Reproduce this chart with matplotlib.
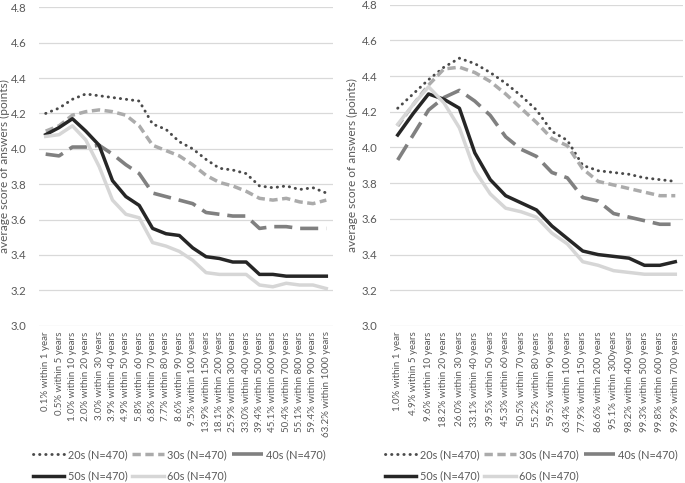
import matplotlib
matplotlib.use("Agg")
import matplotlib.pyplot as plt
from matplotlib.lines import Line2D
from matplotlib.ticker import FormatStrFormatter

plt.rcParams['font.family'] = ['Lato', 'DejaVu Sans']

left_categories = [
    "0.1% within 1 year", "0.5% within 5 years", "1.0% within 10 years",
    "2.0% within 20 years", "3.0% within 30 years", "3.9% within 40 years",
    "4.9% within 50 years", "5.8% within 60 years", "6.8% within 70 years",
    "7.7% within 80 years", "8.6% within 90 years", "9.5% within 100 years",
    "13.9% within 150 years", "18.1% within 200 years", "25.9% within 300 years",
    "33.0% within 400 years", "39.4% within 500 years", "45.1% within 600 years",
    "50.4% within 700 years", "55.1% within 800 years", "59.4% within 900 years",
    "63.2% within 1000 years",
]
left_20s = [4.20, 4.23, 4.28, 4.31, 4.30, 4.29, 4.28, 4.27, 4.14, 4.11, 4.04,
            4.00, 3.94, 3.89, 3.88, 3.86, 3.79, 3.78, 3.79, 3.77, 3.78, 3.75]
left_30s = [4.10, 4.13, 4.19, 4.21, 4.22, 4.21, 4.19, 4.13, 4.02, 3.99, 3.96,
            3.91, 3.85, 3.81, 3.79, 3.76, 3.72, 3.71, 3.72, 3.70, 3.69, 3.71]
left_40s = [3.97, 3.96, 4.01, 4.01, 4.02, 3.97, 3.91, 3.86, 3.75, 3.73, 3.71,
            3.69, 3.64, 3.63, 3.62, 3.62, 3.55, 3.56, 3.56, 3.55, 3.55, 3.55]
left_50s = [4.08, 4.12, 4.17, 4.10, 4.02, 3.82, 3.73, 3.68, 3.55, 3.52, 3.51,
            3.44, 3.39, 3.38, 3.36, 3.36, 3.29, 3.29, 3.28, 3.28, 3.28, 3.28]
left_60s = [4.07, 4.08, 4.13, 4.05, 3.90, 3.71, 3.63, 3.61, 3.47, 3.45, 3.42,
            3.37, 3.30, 3.29, 3.29, 3.29, 3.23, 3.22, 3.24, 3.23, 3.23, 3.21]

right_categories = [
    "1.0% within 1 year", "4.9% within 5 years", "9.6% within 10 years",
    "18.2% within 20 years", "26.0% within 30 years", "33.1% within 40 years",
    "39.5% within 50 years", "45.3% within 60 years", "50.5% within 70 years",
    "55.2% within 80 years", "59.5% within 90 years", "63.4% within 100 years",
    "77.9% within 150 years", "86.6% within 200 years", "95.1% within 300years",
    "98.2% within 400 years", "99.3% within 500 years", "99.8% within 600 years",
    "99.9% within 700 years",
]
right_20s = [4.22, 4.30, 4.38, 4.45, 4.50, 4.47, 4.42, 4.36, 4.29, 4.21, 4.09,
             4.04, 3.90, 3.87, 3.86, 3.85, 3.83, 3.82, 3.81]
right_30s = [4.12, 4.24, 4.35, 4.44, 4.45, 4.42, 4.37, 4.30, 4.22, 4.14, 4.05,
             4.01, 3.88, 3.81, 3.79, 3.77, 3.75, 3.73, 3.73]
right_40s = [3.93, 4.07, 4.21, 4.28, 4.32, 4.26, 4.18, 4.06, 3.99, 3.95, 3.86,
             3.83, 3.72, 3.70, 3.63, 3.61, 3.59, 3.57, 3.57]
right_50s = [4.07, 4.19, 4.30, 4.27, 4.22, 3.97, 3.82, 3.73, 3.69, 3.65, 3.56,
             3.49, 3.42, 3.40, 3.39, 3.38, 3.34, 3.34, 3.36]
right_60s = [4.13, 4.24, 4.34, 4.25, 4.11, 3.87, 3.74, 3.66, 3.64, 3.61, 3.52,
             3.46, 3.36, 3.34, 3.31, 3.30, 3.29, 3.29, 3.29]

series_labels = ["20s (N=470)", "30s (N=470)", "40s (N=470)", "50s (N=470)", "60s (N=470)"]
yticks = [3.0, 3.2, 3.4, 3.6, 3.8, 4.0, 4.2, 4.4, 4.6, 4.8]
ylabel = "average score of answers (points)"

styles = [
    dict(color="#4a4a4a", lw=2.1, linestyle=(0, (0.1, 2.0)), dash_capstyle="round"),
    dict(color="#ababab", lw=2.5, linestyle=(0, (2.4, 1.3))),
    dict(color="#808080", lw=2.6, linestyle=(0, (5.0, 2.2))),
    dict(color="#262626", lw=2.5, linestyle="-"),
    dict(color="#d6d6d6", lw=2.5, linestyle="-"),
]
# legend handle styles (the long-dash sample shows as a single dash in the reference)
legend_styles = [dict(s) for s in styles]
legend_styles[2]["linestyle"] = (0, (9.0, 3.0))

text_color = "#595959"
W, H = 685, 483
fig = plt.figure(figsize=(W / 100, H / 100), dpi=100)

def make_panel(rect, cats, data, legend_x, label_x):
    ax = fig.add_axes(rect)
    x = list(range(len(cats)))
    for vals, st, lab in zip(data, styles, series_labels):
        ax.plot(x, vals, label=lab, zorder=3, **st)
    handles = [Line2D([], [], **st) for st in legend_styles]
    ax.set_xlim(-0.5, len(cats) - 0.5)
    ax.set_ylim(3.0, 4.8)
    ax.set_yticks(yticks)
    ax.yaxis.set_major_formatter(FormatStrFormatter("%.1f"))
    ax.set_xticks(x)
    ax.set_xticklabels(cats, rotation=90, fontsize=7.0, color=text_color)
    ax.tick_params(axis="x", length=0, pad=4)
    ax.tick_params(axis="y", length=0, pad=9, labelsize=8.2, labelcolor=text_color)
    ax.grid(axis="y", color="#d9d9d9", lw=0.9, zorder=0)
    ax.set_axisbelow(True)
    for s in ax.spines.values():
        s.set_visible(False)
    ax.set_ylabel(ylabel, fontsize=8.6, color=text_color)
    ax.yaxis.set_label_coords((label_x - rect[0] * W) / (rect[2] * W), 0.5)
    # row-wise legend order for 3 columns: 20s,50s | 30s,60s | 40s
    order = [0, 3, 1, 4, 2]
    fig.legend(handles=[handles[i] for i in order],
               labels=[series_labels[i] for i in order], loc="upper left",
               bbox_to_anchor=(legend_x / W, 1 - 449 / H),
               ncol=3, frameon=False, fontsize=7.8, labelcolor=text_color,
               handlelength=2.9, handletextpad=0.3, columnspacing=0.45,
               labelspacing=0.95, borderpad=0, borderaxespad=0)
    return ax

make_panel([39 / W, 1 - 325.7 / H, 294 / W, 318.4 / H],
           left_categories, [left_20s, left_30s, left_40s, left_50s, left_60s], 33, 10)
make_panel([390 / W, 1 - 326 / H, 293 / W, 321.3 / H],
           right_categories, [right_20s, right_30s, right_40s, right_50s, right_60s], 385, 358)

fig.savefig("out.png", dpi=100)
